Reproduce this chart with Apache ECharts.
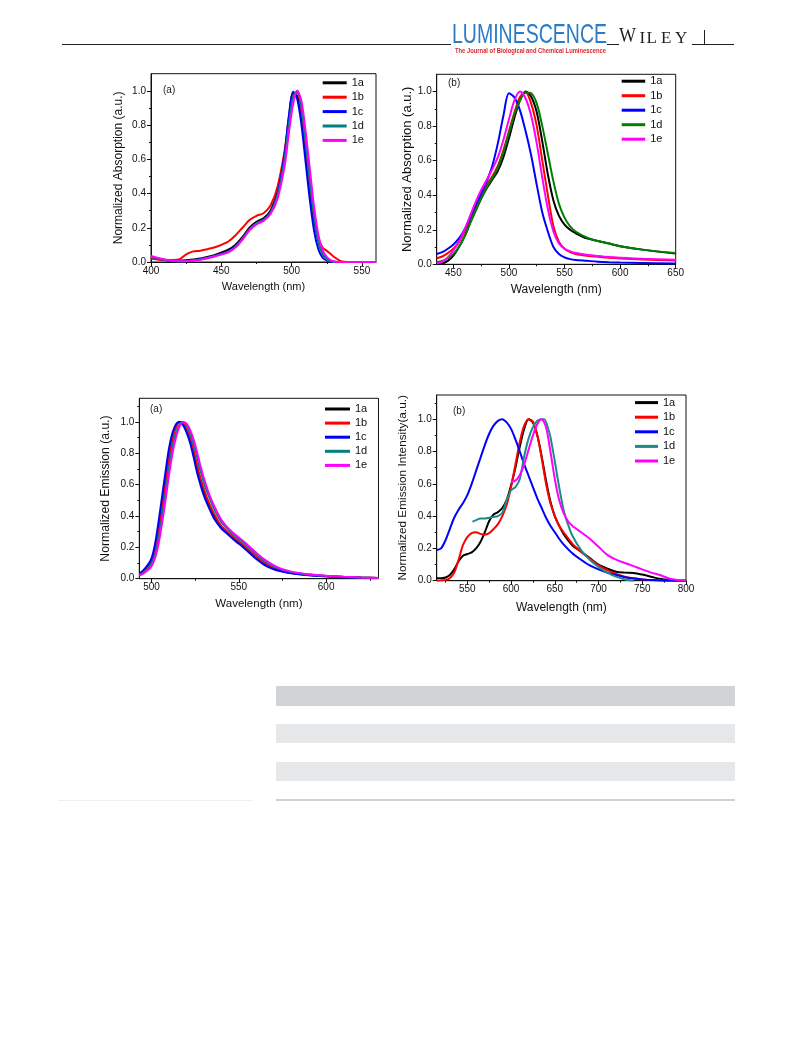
<!DOCTYPE html>
<html><head><meta charset="utf-8">
<script src="https://cdn.jsdelivr.net/npm/echarts@6/dist/echarts.min.js"></script>
<style>html,body{margin:0;padding:0;background:#fff}#c{width:793px;height:1043px}</style>
</head><body><div id="c"></div>
<script>
// ---------- DATA ----------
const SERIES_NAMES = ['1a','1b','1c','1d','1e'];

// Panel 1: absorption (a)
const absA_x  = [400,410,420,425,430,435,440,445,450,455,460,465,470,475,480,485,490,495,498,501,504,507,510,513,516,519,522,525,528,531,535,540,550,560];
const absA_1a = [0.025,0.012,0.008,0.01,0.015,0.02,0.03,0.04,0.055,0.072,0.1,0.145,0.2,0.235,0.255,0.3,0.41,0.63,0.83,0.985,0.97,0.84,0.63,0.42,0.24,0.12,0.05,0.018,0.005,0.001,0,0,0,0];
const absA_1b = [0.02,0.01,0.015,0.045,0.062,0.066,0.075,0.085,0.1,0.12,0.155,0.2,0.245,0.27,0.285,0.33,0.44,0.65,0.84,0.97,0.99,0.88,0.68,0.46,0.27,0.14,0.085,0.065,0.045,0.025,0.005,0,0,0];
const absA_1c = [0.03,0.012,0.005,0.006,0.01,0.016,0.025,0.035,0.048,0.063,0.09,0.135,0.19,0.225,0.245,0.29,0.4,0.63,0.85,0.995,0.95,0.8,0.58,0.36,0.18,0.075,0.025,0.008,0.002,0,0,0,0,0];
const absA_1d = [0.03,0.012,0.005,0.006,0.01,0.015,0.024,0.034,0.046,0.06,0.088,0.135,0.19,0.226,0.246,0.288,0.39,0.6,0.8,0.96,1.0,0.9,0.7,0.47,0.27,0.12,0.05,0.015,0.004,0,0,0,0,0];
const absA_1e = [0.035,0.015,0.005,0.005,0.008,0.013,0.022,0.032,0.043,0.056,0.085,0.13,0.185,0.22,0.24,0.28,0.37,0.56,0.75,0.92,1.0,0.94,0.76,0.54,0.32,0.16,0.07,0.03,0.01,0.002,0,0,0,0];

// Panel 2: absorption (b)
const absB_x  = [435,440,445,450,455,460,465,470,475,480,485,490,495,500,505,510,515,520,525,530,535,540,545,550,555,560,570,580,590,600,620,650];
const absB_1a = [0,0.005,0.02,0.05,0.1,0.16,0.24,0.31,0.38,0.44,0.49,0.54,0.62,0.73,0.85,0.95,1.0,0.97,0.88,0.71,0.52,0.37,0.28,0.23,0.2,0.18,0.15,0.135,0.12,0.105,0.085,0.062];
const absB_1b = [0.035,0.045,0.065,0.09,0.13,0.19,0.26,0.33,0.4,0.46,0.51,0.57,0.66,0.77,0.88,0.97,0.995,0.93,0.8,0.6,0.4,0.22,0.13,0.09,0.07,0.06,0.05,0.043,0.038,0.034,0.028,0.022];
const absB_1c = [0.06,0.07,0.09,0.115,0.15,0.2,0.27,0.34,0.41,0.48,0.57,0.7,0.86,0.99,0.965,0.89,0.77,0.63,0.46,0.3,0.19,0.1,0.06,0.04,0.03,0.025,0.02,0.015,0.012,0.01,0.008,0.005];
const absB_1d = [0.012,0.02,0.035,0.06,0.1,0.16,0.235,0.31,0.38,0.445,0.5,0.56,0.65,0.76,0.87,0.95,0.995,0.99,0.93,0.8,0.64,0.48,0.35,0.27,0.22,0.19,0.155,0.135,0.12,0.105,0.085,0.065];
const absB_1e = [0.005,0.015,0.04,0.08,0.13,0.2,0.28,0.36,0.43,0.49,0.55,0.62,0.72,0.84,0.95,1.0,0.96,0.86,0.7,0.5,0.32,0.19,0.12,0.09,0.075,0.065,0.055,0.048,0.042,0.038,0.032,0.027];

// Panel 3: emission (a)
const emA_x  = [493,495,498,500,502,504,506,508,510,512,514,516,518,520,522,524,526,528,530,533,536,540,544,548,552,556,560,565,570,575,580,590,600,610,620,630];
const emA_1a = [0.03,0.045,0.08,0.115,0.19,0.31,0.46,0.62,0.78,0.9,0.97,0.998,0.99,0.95,0.89,0.81,0.72,0.63,0.56,0.47,0.4,0.33,0.29,0.25,0.215,0.175,0.135,0.095,0.065,0.048,0.037,0.024,0.016,0.011,0.007,0.004];
const emA_1b = [0.03,0.043,0.078,0.11,0.18,0.3,0.45,0.61,0.77,0.89,0.965,0.997,0.99,0.955,0.895,0.82,0.73,0.64,0.57,0.48,0.41,0.335,0.293,0.255,0.22,0.18,0.14,0.1,0.068,0.05,0.038,0.025,0.017,0.011,0.007,0.004];
const emA_1c = [0.035,0.05,0.09,0.13,0.22,0.36,0.52,0.68,0.83,0.93,0.985,1.0,0.98,0.935,0.87,0.78,0.68,0.6,0.53,0.45,0.38,0.32,0.28,0.24,0.205,0.165,0.125,0.085,0.06,0.045,0.035,0.022,0.015,0.01,0.006,0.004];
const emA_1d = [0.025,0.035,0.065,0.095,0.15,0.25,0.39,0.54,0.7,0.84,0.93,0.98,1.0,0.98,0.93,0.86,0.78,0.69,0.61,0.52,0.44,0.36,0.31,0.27,0.235,0.195,0.155,0.11,0.078,0.056,0.042,0.027,0.018,0.012,0.008,0.005];
const emA_1e = [0.02,0.03,0.055,0.08,0.13,0.22,0.35,0.5,0.66,0.8,0.9,0.97,0.998,0.99,0.95,0.89,0.81,0.72,0.64,0.54,0.46,0.375,0.32,0.28,0.245,0.205,0.165,0.12,0.085,0.06,0.045,0.029,0.019,0.013,0.008,0.005];

// Panel 4: emission (b)
const emB_x    = [515,520,525,530,535,540,545,550,555,560,565,570,575,580,585,590,595,600,605,610,615,620,625,630,635,640,645,650,655,660,670,680,690,700,710,720,730,740,750,760,770,780,790,800];
const emB_1a   = [0.015,0.015,0.02,0.035,0.07,0.12,0.155,0.165,0.175,0.2,0.24,0.3,0.37,0.41,0.425,0.45,0.5,0.59,0.7,0.83,0.94,1.0,0.98,0.9,0.77,0.62,0.49,0.4,0.34,0.29,0.22,0.18,0.14,0.1,0.075,0.055,0.05,0.048,0.038,0.025,0.012,0.004,0,0];
const emB_1b   = [0,0.002,0.005,0.015,0.05,0.13,0.22,0.27,0.295,0.3,0.29,0.285,0.295,0.32,0.35,0.4,0.47,0.58,0.72,0.86,0.96,1.0,0.985,0.9,0.76,0.6,0.48,0.4,0.34,0.3,0.23,0.18,0.135,0.095,0.065,0.042,0.025,0.015,0.008,0.004,0.001,0,0,0];
const emB_1c   = [0.19,0.2,0.25,0.32,0.39,0.44,0.48,0.53,0.6,0.68,0.76,0.84,0.91,0.96,0.99,1.0,0.98,0.94,0.875,0.8,0.72,0.65,0.58,0.51,0.45,0.39,0.34,0.3,0.26,0.225,0.17,0.13,0.095,0.07,0.05,0.035,0.022,0.013,0.008,0.004,0.002,0,0,0];
const emB_1d_x = [556,560,565,570,575,580,585,590,595,600,605,610,615,620,625,630,635,638,642,645,650,655,660,665,670,680,690,700,710,720,730,740];
const emB_1d   = [0.365,0.375,0.385,0.385,0.39,0.395,0.4,0.42,0.5,0.56,0.58,0.63,0.77,0.88,0.95,0.99,1.0,1.0,0.95,0.89,0.74,0.58,0.44,0.35,0.28,0.19,0.13,0.085,0.05,0.025,0.008,0];
const emB_1e_x = [600,605,610,615,620,625,630,635,640,645,650,655,660,665,670,675,680,690,700,710,720,730,740,750,760,770,780,790,800];
const emB_1e   = [0.615,0.62,0.655,0.72,0.81,0.9,0.97,1.0,0.95,0.8,0.63,0.5,0.42,0.37,0.34,0.32,0.3,0.26,0.21,0.16,0.13,0.11,0.09,0.07,0.05,0.035,0.015,0.004,0];

// tick labels
const ticksA_x = [400,450,500,550];          const minorA_x = [425,475,525];
const ticksB_x = [450,500,550,600,650];      const minorB_x = [475,525,575,625];
const ticksC_x = [500,550,600];              const minorC_x = [525,575,625];
const ticksD_x = [550,600,650,700,750,800];  const minorD_x = [525,575,625,675,725,775];
const ticks_y  = [0,0.2,0.4,0.6,0.8,1.0];
const minor_y  = [0.1,0.3,0.5,0.7,0.9];
const minor_y2 = [0.1,0.3,0.5,0.7,0.9,1.1];

// ---------- LAYOUT ----------
const SANS = "'Liberation Sans',Arial,sans-serif";
const BLK='#000', RED='#ff0000', BLU='#0000ff', TEAL='#008080', GRN='#008000', MAG='#ff00ff';

const panels = [
  { id:'A', grid:{left:151, top:73.7, width:225, height:188.3}, xMin:400, xMax:560, yMax:1.1,
    xT:ticksA_x, xM:minorA_x, yT:ticks_y, yM:minor_y,
    xName:'Wavelength (nm)', yName:'Normalized Absorption (a.u.)', xFs:11, yFs:12, xGap:19, yGap:26, tickFs:10,
    lines:[[absA_x,absA_1a,BLK],[absA_x,absA_1b,RED],[absA_x,absA_1c,BLU],[absA_x,absA_1d,TEAL],[absA_x,absA_1e,MAG]],
    legend:{left:322.7, top:75.8, w:24, gap:0.4}, tag:{t:'(a)', x:163, y:90} },
  { id:'B', grid:{left:436.7, top:74.3, width:239, height:190}, xMin:435, xMax:650, yMax:1.1,
    xT:ticksB_x, xM:minorB_x, yT:ticks_y, yM:minor_y,
    xName:'Wavelength (nm)', yName:'Normalized Absorption (a.u.)', xFs:12, yFs:13, xGap:19, yGap:17, tickFs:10,
    lines:[[absB_x,absB_1a,BLK],[absB_x,absB_1b,RED],[absB_x,absB_1c,BLU],[absB_x,absB_1d,GRN],[absB_x,absB_1e,MAG]],
    legend:{left:621.7, top:74.2, w:23.5, gap:0.5}, tag:{t:'(b)', x:448, y:83} },
  { id:'C', grid:{left:139.3, top:398.3, width:239.2, height:180.4}, xMin:493, xMax:630, yMax:1.15,
    xT:ticksC_x, xM:minorC_x, yT:ticks_y, yM:minor_y2,
    xName:'Wavelength (nm)', yName:'Normalized Emission (a.u.)', xFs:11.5, yFs:12.2, xGap:19, yGap:28, tickFs:10,
    lines:[[emA_x,emA_1a,BLK],[emA_x,emA_1b,RED],[emA_x,emA_1c,BLU],[emA_x,emA_1d,TEAL],[emA_x,emA_1e,MAG]],
    legend:{left:325, top:402, w:25, gap:0.1}, tag:{t:'(a)', x:150, y:409} },
  { id:'D', grid:{left:436.7, top:395, width:249.3, height:185.7}, xMin:515, xMax:800, yMax:1.15,
    xT:ticksD_x, xM:minorD_x, yT:ticks_y, yM:minor_y2,
    xName:'Wavelength (nm)', yName:'Normalized Emission Intensity(a.u.)', xFs:12, yFs:11.8, xGap:21, yGap:28, tickFs:10,
    lines:[[emB_x,emB_1a,BLK],[emB_x,emB_1b,RED],[emB_x,emB_1c,BLU],[emB_1d_x,emB_1d,'#1d8b87'],[emB_1e_x,emB_1e,MAG]],
    legend:{left:635, top:395.6, w:23, gap:0.6}, tag:{t:'(b)', x:453, y:411} }
];

const option = { animation:false, backgroundColor:'#fff', grid:[], xAxis:[], yAxis:[], series:[], legend:[], graphic:[] };

panels.forEach((p, i) => {
  option.grid.push(Object.assign({ show:true, borderColor:'#111', borderWidth:1, backgroundColor:'transparent' }, p.grid));
  const axLine = { show:true, lineStyle:{ color:'#111', width:1 } };
  option.xAxis.push({ type:'value', gridIndex:i, position:'bottom', min:p.xMin, max:p.xMax,
    name:p.xName, nameLocation:'middle', nameGap:p.xGap,
    nameTextStyle:{ fontFamily:SANS, fontSize:p.xFs, color:'#111' },
    axisLine:axLine, splitLine:{show:false},
    axisTick:{ show:true, length:4, customValues:p.xT, lineStyle:{color:'#111'} },
    axisLabel:{ customValues:p.xT, fontFamily:SANS, fontSize:p.tickFs, color:'#111', margin:4 } });
  option.xAxis.push({ type:'value', gridIndex:i, position:'bottom', min:p.xMin, max:p.xMax,
    axisLine:{show:false}, splitLine:{show:false}, axisLabel:{show:false},
    axisTick:{ show:true, length:2, customValues:p.xM, lineStyle:{color:'#111'} } });
  option.yAxis.push({ type:'value', gridIndex:i, position:'left', min:0, max:p.yMax,
    name:p.yName, nameLocation:'middle', nameGap:p.yGap,
    nameTextStyle:{ fontFamily:SANS, fontSize:p.yFs, color:'#111' },
    axisLine:axLine, splitLine:{show:false},
    axisTick:{ show:true, length:4, customValues:p.yT, lineStyle:{color:'#111'} },
    axisLabel:{ customValues:p.yT, fontFamily:SANS, fontSize:p.tickFs, color:'#111', margin:5,
      formatter: v => Number(v).toFixed(1) } });
  option.yAxis.push({ type:'value', gridIndex:i, position:'left', min:0, max:p.yMax,
    axisLine:{show:false}, splitLine:{show:false}, axisLabel:{show:false},
    axisTick:{ show:true, length:2, customValues:p.yM, lineStyle:{color:'#111'} } });

  const names = [];
  p.lines.forEach((L, k) => {
    const nm = p.id + '|' + SERIES_NAMES[k];
    names.push(nm);
    option.series.push({ type:'line', name:nm, xAxisIndex:2*i, yAxisIndex:2*i,
      data: L[0].map((x, j) => [x, L[1][j]]),
      showSymbol:false, symbol:'none', smooth:0.3, clip:true, z:2+k,
      lineStyle:{ width:2, color:L[2] }, itemStyle:{ color:L[2] } });
  });
  option.legend.push({ orient:'vertical', left:p.legend.left, top:p.legend.top, padding:0,
    itemWidth:p.legend.w, itemHeight:3, itemGap:p.legend.gap, icon:'rect', selectedMode:false,
    data:names, formatter: n => n.split('|')[1],
    textStyle:{ fontFamily:SANS, fontSize:11, color:'#111', lineHeight:14 } });
  option.graphic.push({ type:'text', x:p.tag.x, y:p.tag.y,
    style:{ text:p.tag.t, font:"10px " + SANS, fill:'#222', textAlign:'left', textVerticalAlign:'middle', align:'left', verticalAlign:'middle' } });
});

// ---------- HEADER & TABLE DECORATION ----------
function measure(text, font) {
  const c = document.createElement('canvas').getContext('2d');
  c.font = font; return c.measureText(text).width;
}
const logoFont = "28px " + SANS;
const logoTxt = 'LUMINESCENCE';
const subFont = "bold 7px " + SANS;
const subTxt = 'The Journal of Biological and Chemical Luminescence';
option.graphic.push(
  { type:'text', x:452, y:35.5, scaleX:155/measure(logoTxt, logoFont),
    style:{ text:logoTxt, font:logoFont, fill:'#2b7cc4', textAlign:'left', textVerticalAlign:'middle', align:'left', verticalAlign:'middle' } },
  { type:'text', x:455, y:51.5, scaleX:151/measure(subTxt, subFont),
    style:{ text:subTxt, font:subFont, fill:'#d9272e', textAlign:'left', textVerticalAlign:'middle', align:'left', verticalAlign:'middle' } }
);
const SERIF = "'Liberation Serif','DejaVu Serif',serif";
[['W',619,20],['I',639.5,17],['L',646.5,17],['E',661,17],['Y',675,17]].forEach(([ch,x,fs]) => {
  option.graphic.push({ type:'text', x:x, y:47, scaleX: ch==='W' ? 0.9 : 1,
    style:{ text:ch, font: fs + "px " + SERIF, fill:'#231f20', textAlign:'left', textVerticalAlign:'bottom', align:'left', verticalAlign:'bottom' } });
});
const hl = (x1,y1,x2,y2,c,w) => ({ type:'line', shape:{x1,y1,x2,y2}, style:{ stroke:c, lineWidth:w } });
option.graphic.push(
  hl(62,44.5,451,44.5,'#231f20',1), hl(607,44.5,619,44.5,'#231f20',1), hl(692,44.5,734,44.5,'#231f20',1),
  hl(704.5,30,704.5,44.5,'#231f20',1)
);
const rect = (x,y,w,h,c) => ({ type:'rect', shape:{x,y,width:w,height:h}, style:{ fill:c } });
option.graphic.push(
  rect(276,686,459,20,'#d1d3d4'),
  rect(276,724,459,19,'#e6e7e8'),
  rect(276,762,459,19,'#e6e7e8'),
  rect(276,799,459,2,'#d0d1d3'),
  rect(58,800,195,1,'#efefef')
);

const chart = echarts.init(document.getElementById('c'), null, { renderer:'canvas', width:793, height:1043 });
chart.setOption(option);
</script></body></html>
